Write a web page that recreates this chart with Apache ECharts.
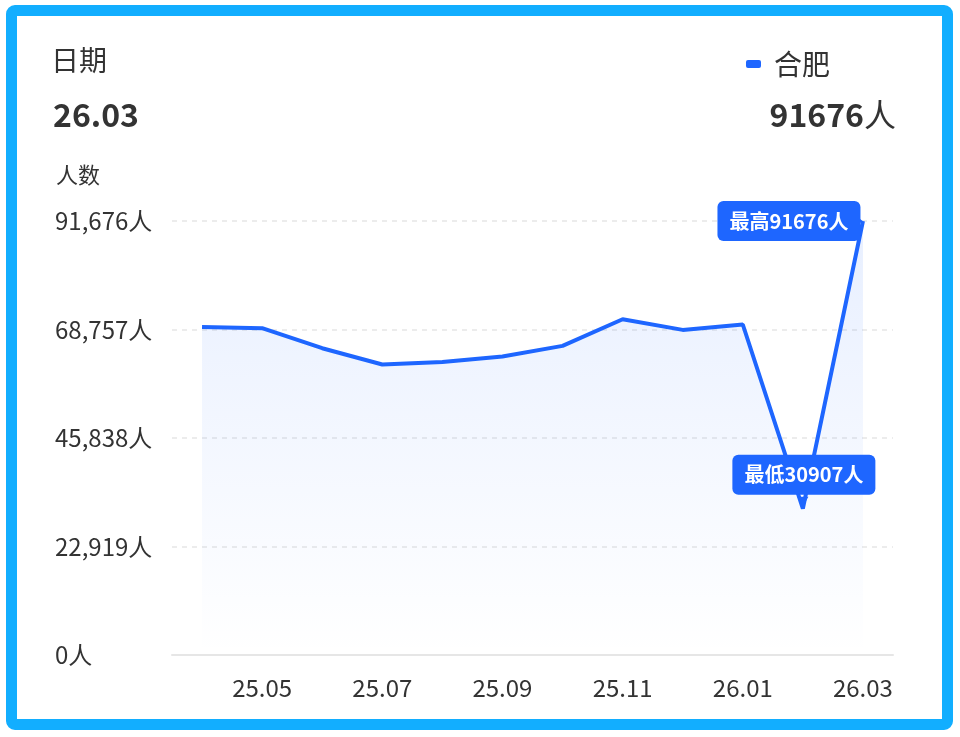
<!DOCTYPE html>
<html>
<head>
<meta charset="utf-8">
<script src="https://cdn.jsdelivr.net/npm/echarts@6/dist/echarts.min.js"></script>
<style>
html,body{margin:0;padding:0;background:#fff;}
#chart{position:absolute;left:0;top:0;width:960px;height:737px;}
#frame{position:absolute;left:6px;top:5px;width:925px;height:703px;border:11px solid #12aeff;border-radius:9px;pointer-events:none;}
</style>
</head>
<body>
<div id="chart"></div>
<div id="frame"></div>
<script>
const categories = ['25.04','25.05','25.06','25.07','25.08','25.09','25.10','25.11','25.12','26.01','26.02','26.03'];
const hefeiValues = [69306, 69032, 64807, 61365, 61914, 63055, 65293, 70932, 68673, 69813, 30907, 91676];
const yTicks = [0, 22919, 45838, 68757, 91676];
const seriesName = '合肥';
const currentDate = '26.03';
const currentValue = 91676;

const FONT = '"Noto Sans CJK SC", "Noto Sans", sans-serif';
const BLUE = '#1e66ff';

const chart = echarts.init(document.getElementById('chart'));
chart.setOption({
  backgroundColor: '#fff',
  textStyle: { fontFamily: FONT },
  title: [
    { text: '日期', left: 51, top: 46, padding: 0, textStyle: { fontSize: 28, fontWeight: 'normal', color: '#333', fontFamily: FONT } },
    { text: currentDate, left: 53, top: 99, padding: 0, textStyle: { fontSize: 32, fontWeight: 'bold', color: '#333', fontFamily: FONT } },
    { text: '人数', left: 56, top: 164, padding: 0, textStyle: { fontSize: 22, fontWeight: 'normal', color: '#333', fontFamily: FONT } },
    { text: '{v|' + currentValue + '}{u|人}', right: 64, top: 99, padding: 0,
      textStyle: { rich: {
        v: { fontSize: 32, fontWeight: 'bold', color: '#333', fontFamily: FONT },
        u: { fontSize: 32, fontWeight: 'normal', color: '#333', fontFamily: FONT }
      } } }
  ],
  legend: {
    data: [seriesName],
    right: 130, top: 50, padding: 0,
    icon: 'roundRect', itemWidth: 15, itemHeight: 8, itemGap: 10,
    textStyle: { fontSize: 28, color: '#333', fontFamily: FONT, padding: [0, 0, 0, 8] }
  },
  grid: { left: 172, right: 67, top: 221, bottom: 82, containLabel: false },
  xAxis: {
    type: 'category',
    data: categories,
    boundaryGap: true,
    axisTick: { show: false },
    axisLine: { lineStyle: { color: '#e6e6e6', width: 2 } },
    axisLabel: {
      interval: function (i) { return i % 2 === 1; },
      fontSize: 24, color: '#333', margin: 21, fontFamily: FONT
    }
  },
  yAxis: {
    type: 'value',
    min: yTicks[0], max: yTicks[yTicks.length - 1], interval: yTicks[1] - yTicks[0],
    axisLine: { show: false }, axisTick: { show: false },
    axisLabel: {
      fontSize: 24, color: '#333', margin: 117, align: 'left', fontFamily: FONT,
      formatter: function (v) { return v.toLocaleString('en-US') + '人'; }
    },
    splitLine: { lineStyle: { type: [5, 5], color: '#e6e6e6', width: 1.5 } }
  },
  series: [{
    name: seriesName,
    type: 'line',
    data: hefeiValues,
    showSymbol: false,
    symbol: 'none',
    lineStyle: { color: BLUE, width: 4 },
    itemStyle: { color: BLUE },
    areaStyle: {
      color: new echarts.graphic.LinearGradient(0, 0, 0, 1, [
        { offset: 0, color: 'rgba(30,102,255,0.15)' },
        { offset: 1, color: 'rgba(30,102,255,0.0)' }
      ])
    },
    markPoint: {
      silent: true,
      label: {
        show: true, color: '#fff', fontSize: 20, fontWeight: 'bold', fontFamily: FONT,
        backgroundColor: BLUE, borderRadius: 6, padding: [10, 12, 10, 12]
      },
      itemStyle: { color: BLUE },
      data: [
        { type: 'max', symbol: 'path://M0,0L8,6L0,12Z', symbolSize: [7, 12], symbolOffset: [-4, 0],
          label: { position: 'inside', offset: [-70, 0], formatter: function (p) { return '最高' + p.value + '人'; } } },
        { type: 'min', symbol: 'path://M0,0L10,0L5,10Z', symbolSize: [11, 10], symbolOffset: [0, -7],
          label: { position: 'inside', offset: [1, -27], formatter: function (p) { return '最低' + p.value + '人'; } } }
      ]
    }
  }]
});
</script>
</body>
</html>
